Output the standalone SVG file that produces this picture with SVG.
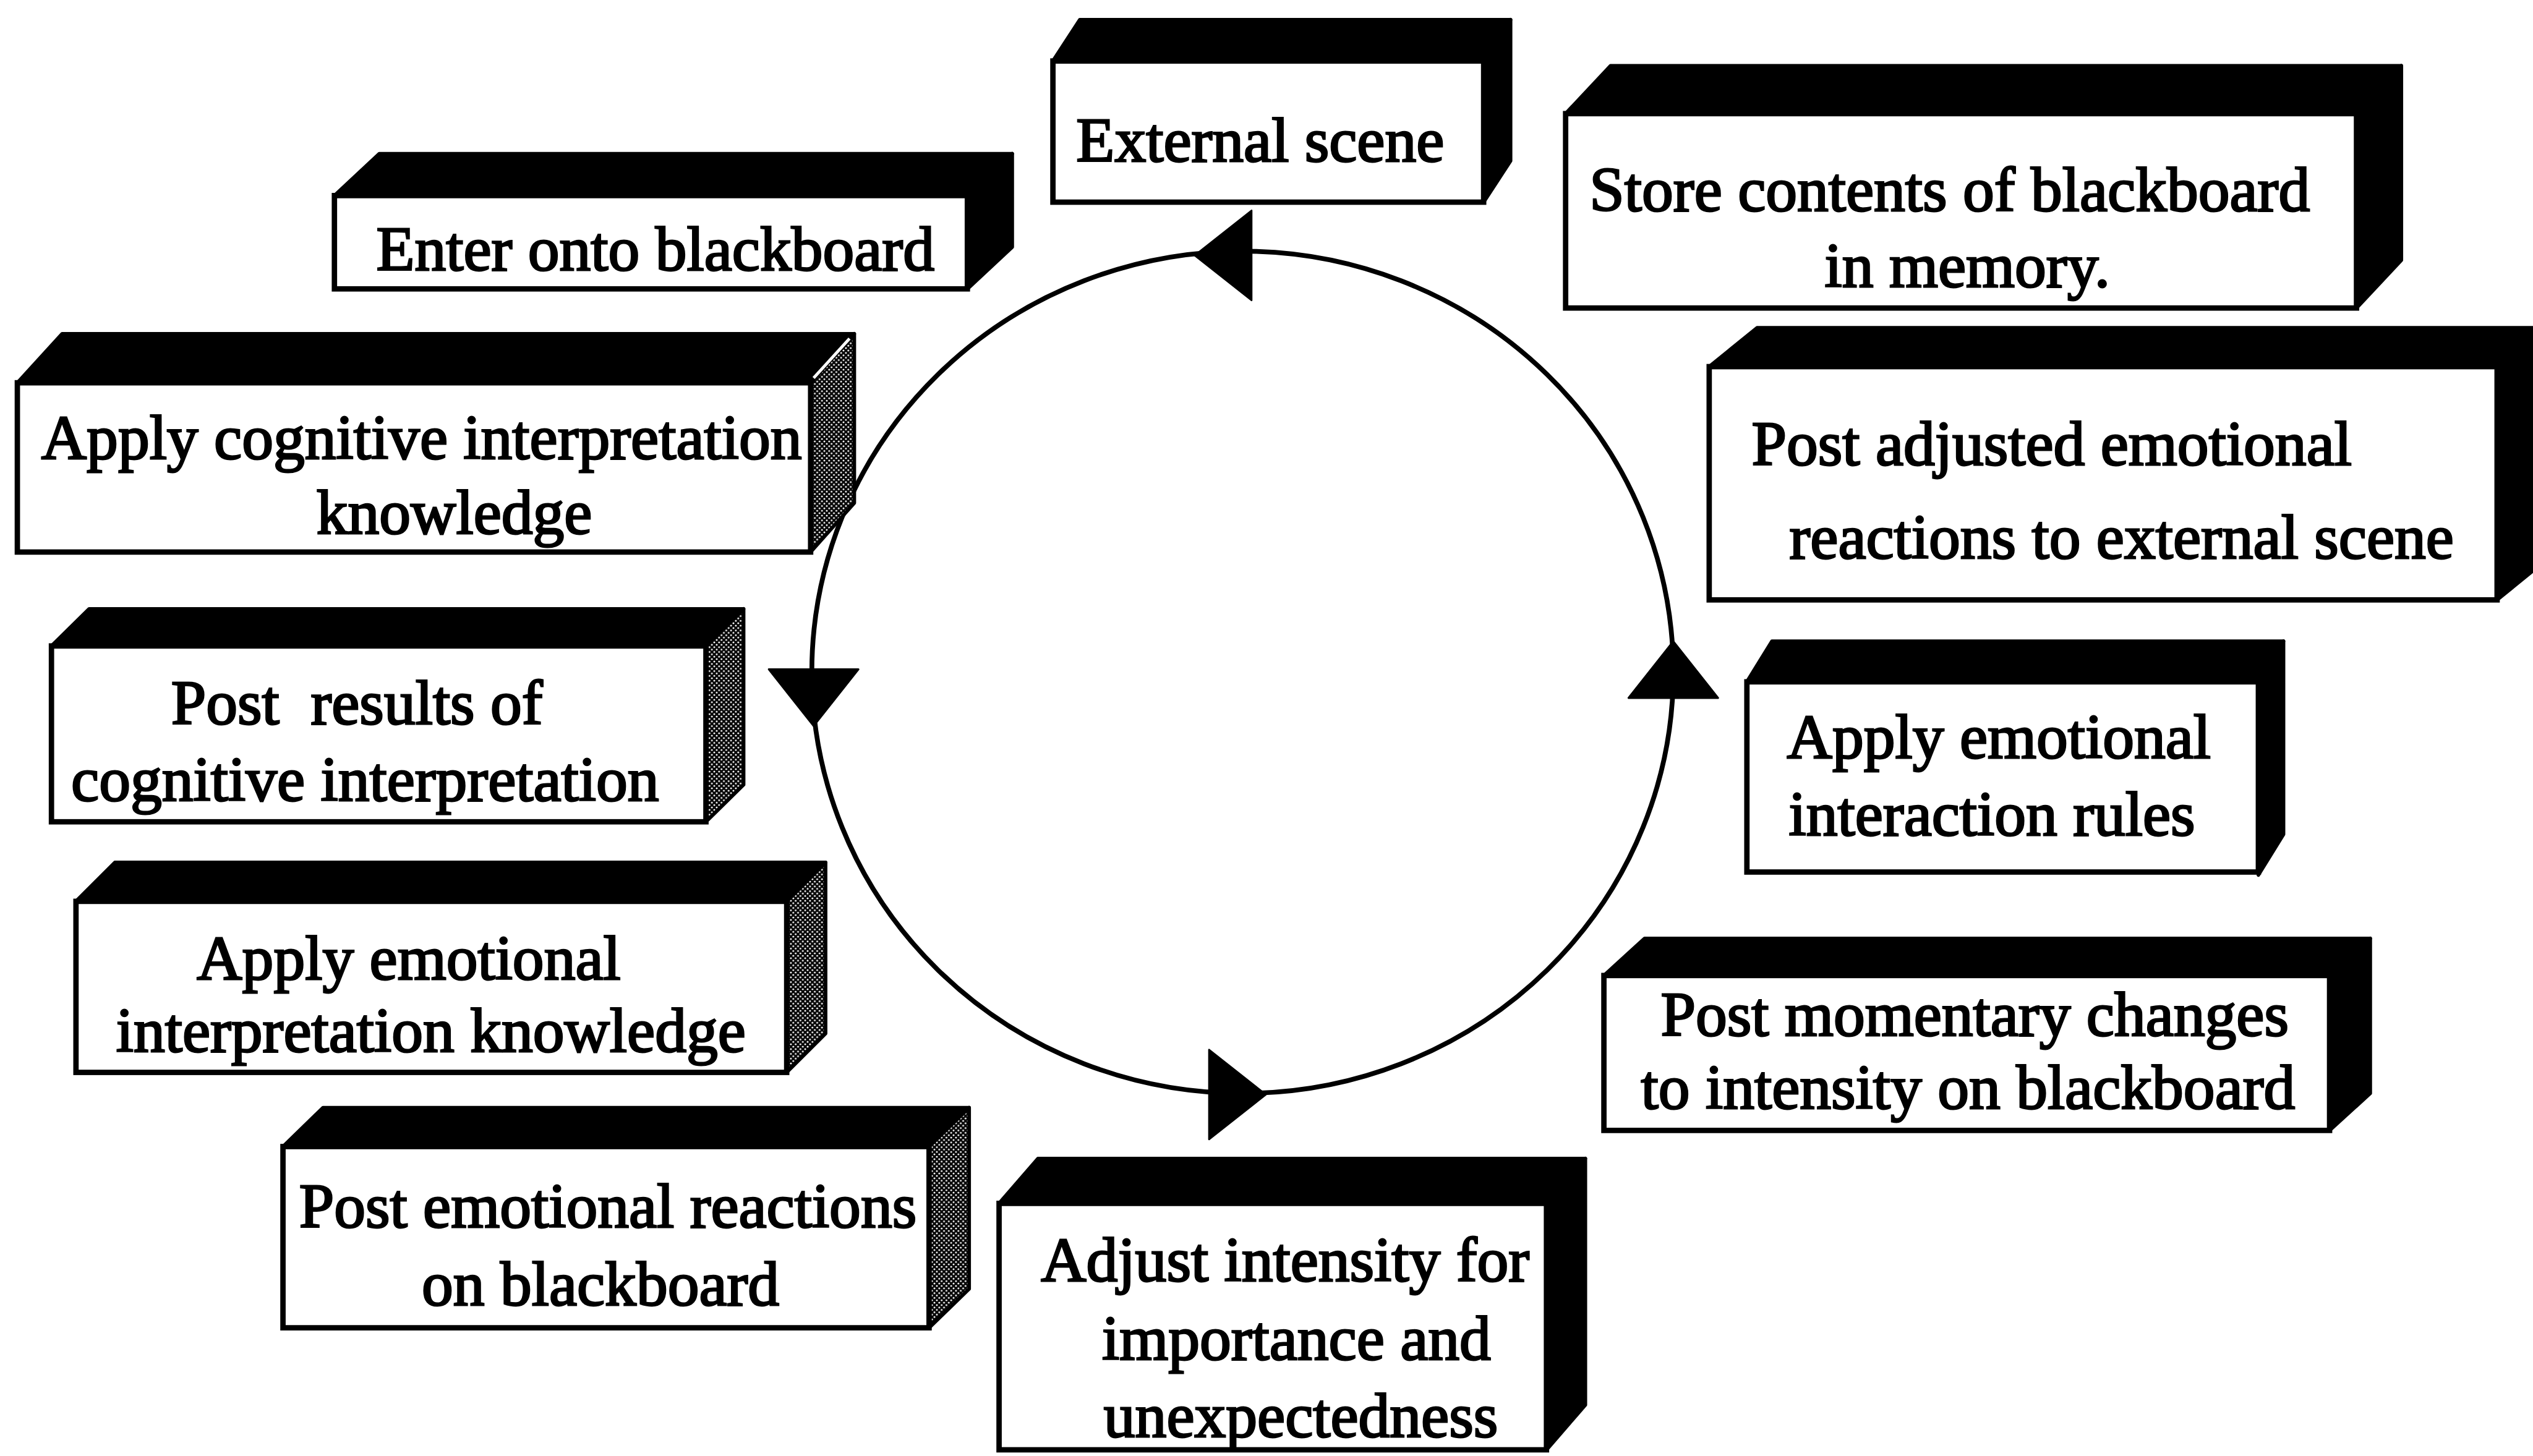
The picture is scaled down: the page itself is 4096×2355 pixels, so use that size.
<svg xmlns="http://www.w3.org/2000/svg" width="4096" height="2355" viewBox="0 0 4096 2355">
  <style>
    .face { fill: #fff; stroke: #000; stroke-width: 9; }
    .top, .side { fill: #000; stroke: #000; stroke-width: 6; stroke-linejoin: round; }
    .side.stipple { fill: url(#stipple); }
    .label { font-family: "Liberation Serif", "Times New Roman", serif; font-size: 105px; fill: #000; stroke: #000; stroke-width: 3; }
    .cycle { fill: none; stroke: #000; stroke-width: 8; }
    .head { fill: #000; stroke: #000; stroke-width: 3; stroke-linejoin: round; }
    .gleam { stroke: #fff; stroke-width: 5; fill: none; }
  </style>
  <defs>
    <pattern id="stipple" patternUnits="userSpaceOnUse" width="8" height="8">
      <rect width="8" height="8" fill="#000"/>
      <circle cx="2" cy="2" r="1.6" fill="#fff"/>
      <circle cx="6" cy="6" r="1.6" fill="#fff"/>
    </pattern>
    <path id="head" class="head" d="M0,0 L-95,-75 L-95,75 Z"/>
  </defs>
  <rect width="4096" height="2355" fill="#fff"/>
  <g transform="scale(0.9674)">
    <g id="connectors">
      <ellipse class="cycle" cx="2077" cy="1124" rx="720" ry="704"/>
      <use href="#head" transform="translate(1997,427) rotate(180)"/>
      <use href="#head" transform="translate(1360,1214) rotate(90)"/>
      <use href="#head" transform="translate(2116,1830)"/>
      <use href="#head" transform="translate(2797,1072) rotate(-90)"/>
    </g>

    <g id="node-external-scene">
      <polygon class="top" points="1760,102 1805,33 2525,33 2480,102"/>
      <polygon class="side" points="2480,102 2525,33 2525,269 2480,338"/>
      <rect class="face" x="1760" y="102" width="720" height="236"/>
      <text class="label"><tspan x="1799" y="270">External scene</tspan></text>
    </g>

    <g id="node-enter-blackboard">
      <polygon class="top" points="559,327 634,257 1692,257 1617,327"/>
      <polygon class="side" points="1617,327 1692,257 1692,413 1617,483"/>
      <rect class="face" x="559" y="327" width="1058" height="156"/>
      <text class="label"><tspan x="629" y="452">Enter onto blackboard</tspan></text>
    </g>

    <g id="node-apply-cognitive">
      <polygon class="top" points="29,640 104,558 1428,558 1355,640"/>
      <polygon class="side stipple" points="1355,640 1428,558 1428,841 1355,923"/>
      <line class="gleam" x1="1360" y1="632" x2="1420" y2="566"/>
      <rect class="face" x="29" y="640" width="1326" height="283"/>
      <text class="label"><tspan x="69" y="767">Apply cognitive interpretation</tspan><tspan x="529" y="892">knowledge</tspan></text>
    </g>

    <g id="node-post-cognitive">
      <polygon class="top" points="86,1080 149,1018 1243,1018 1180,1080"/>
      <polygon class="side stipple" points="1180,1080 1243,1018 1243,1312 1180,1374"/>
      <rect class="face" x="86" y="1080" width="1094" height="294"/>
      <text class="label"><tspan x="286" y="1210">Post&#160; results of</tspan><tspan x="119" y="1339">cognitive interpretation</tspan></text>
    </g>

    <g id="node-apply-emotional-knowledge">
      <polygon class="top" points="127,1507 192,1442 1380,1442 1315,1507"/>
      <polygon class="side stipple" points="1315,1507 1380,1442 1380,1728 1315,1793"/>
      <rect class="face" x="127" y="1507" width="1188" height="286"/>
      <text class="label"><tspan x="329" y="1637">Apply emotional</tspan><tspan x="194" y="1758">interpretation knowledge</tspan></text>
    </g>

    <g id="node-post-emotional">
      <polygon class="top" points="473,1917 540,1852 1620,1852 1553,1917"/>
      <polygon class="side stipple" points="1553,1917 1620,1852 1620,2155 1553,2220"/>
      <rect class="face" x="473" y="1917" width="1080" height="303"/>
      <text class="label"><tspan x="500" y="2052">Post emotional reactions</tspan><tspan x="705" y="2182">on blackboard</tspan></text>
    </g>

    <g id="node-adjust-intensity">
      <polygon class="top" points="1670,2012 1735,1937 2650,1937 2585,2012"/>
      <polygon class="side" points="2585,2012 2650,1937 2650,2349 2585,2424"/>
      <rect class="face" x="1670" y="2012" width="915" height="412"/>
      <text class="label"><tspan x="1740" y="2142">Adjust intensity for</tspan><tspan x="1842" y="2273">importance and</tspan><tspan x="1845" y="2402">unexpectedness</tspan></text>
    </g>

    <g id="node-post-momentary">
      <polygon class="top" points="2681,1631 2749,1569 3962,1569 3894,1631"/>
      <polygon class="side" points="3894,1631 3962,1569 3962,1828 3894,1890"/>
      <rect class="face" x="2681" y="1631" width="1213" height="259"/>
      <text class="label"><tspan x="2776" y="1731">Post momentary changes</tspan><tspan x="2743" y="1853">to intensity on blackboard</tspan></text>
    </g>

    <g id="node-apply-interaction">
      <polygon class="top" points="2920,1140 2962,1072 3817,1072 3775,1140"/>
      <polygon class="side" points="3775,1140 3817,1072 3817,1395 3775,1463"/>
      <rect class="face" x="2920" y="1140" width="855" height="318"/>
      <text class="label"><tspan x="2987" y="1267">Apply emotional</tspan><tspan x="2990" y="1397">interaction rules</tspan></text>
    </g>

    <g id="node-post-adjusted">
      <polygon class="top" points="2857,613 2937,548 4254,548 4174,613"/>
      <polygon class="side" points="4174,613 4254,548 4254,938 4174,1003"/>
      <rect class="face" x="2857" y="613" width="1317" height="390"/>
      <text class="label"><tspan x="2928" y="777">Post adjusted emotional</tspan><tspan x="2991" y="933">reactions to external scene</tspan></text>
    </g>

    <g id="node-store-memory">
      <polygon class="top" points="2617,190 2692,110 4014,110 3939,190"/>
      <polygon class="side" points="3939,190 4014,110 4014,435 3939,515"/>
      <rect class="face" x="2617" y="190" width="1322" height="325"/>
      <text class="label"><tspan x="2657" y="353">Store contents of blackboard</tspan><tspan x="3050" y="480">in memory.</tspan></text>
    </g>
  </g>
</svg>
